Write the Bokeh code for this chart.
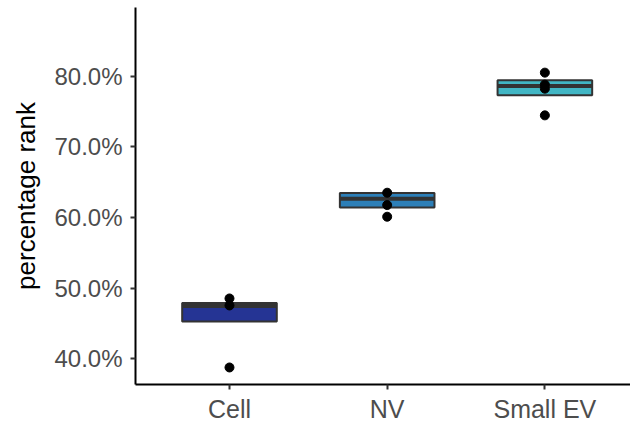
from bokeh.plotting import figure
from bokeh.models import FixedTicker, NumeralTickFormatter, ColumnDataSource
from bokeh.embed import file_html
from bokeh.resources import INLINE

categories = ["Cell", "NV", "Small EV"]
fill_colors = ["#253494", "#2c7fb8", "#41b6c4"]
q1 = [0.4528, 0.6141, 0.7729]
median = [0.4748, 0.6266, 0.7861]
q3 = [0.4791, 0.6346, 0.7942]

point_groups = ["Cell", "Cell", "Cell", "NV", "NV", "NV", "Small EV", "Small EV", "Small EV", "Small EV"]
point_values = [0.4854, 0.4755, 0.3877, 0.6351, 0.6176, 0.6011, 0.8051, 0.7881, 0.7824, 0.7446]

y_ticks = [0.4, 0.5, 0.6, 0.7, 0.8]
y_title = "percentage rank"

xpos = {c: i + 1 for i, c in enumerate(categories)}
box_x = [xpos[c] for c in categories]
box_w = 0.6

p = figure(width=630, height=425, output_backend="svg", toolbar_location=None,
           x_range=(0.404, 3.543), y_range=(0.3636, 0.8973),
           min_border_left=135, min_border_bottom=41, min_border_top=7, min_border_right=0)

src = ColumnDataSource(dict(x=box_x, q1=q1, q3=q3, med=median, color=fill_colors,
                            x0=[x - box_w / 2 for x in box_x], x1=[x + box_w / 2 for x in box_x]))
p.vbar(x="x", width=box_w, bottom="q1", top="q3", fill_color="color",
       line_color="#333333", line_width=2, source=src)
p.segment(x0="x0", x1="x1", y0="med", y1="med", line_color="#333333", line_width=4, source=src)

p.scatter([xpos[g] for g in point_groups], point_values, size=9, color="black")

p.xgrid.visible = False
p.ygrid.visible = False
p.outline_line_color = None
p.background_fill_color = "white"
p.border_fill_color = "white"

p.xaxis.ticker = FixedTicker(ticks=box_x)
p.xaxis.major_label_overrides = {x: c for x, c in zip(box_x, categories)}
p.yaxis.ticker = FixedTicker(ticks=y_ticks)
p.yaxis.formatter = NumeralTickFormatter(format="0.0%")
p.yaxis.axis_label = y_title

for ax in (p.xaxis[0], p.yaxis[0]):
    ax.axis_line_color = "black"
    ax.axis_line_width = 2
    ax.major_tick_line_color = "#333333"
    ax.major_tick_line_width = 2
    ax.major_tick_out = 5
    ax.major_tick_in = 0
    ax.minor_tick_line_color = None
    ax.major_label_text_color = "#4d4d4d"
    ax.major_label_text_font = "Liberation Sans"
    ax.axis_label_text_font = "Liberation Sans"
    ax.axis_label_text_font_style = "normal"
    ax.axis_label_text_color = "black"
    ax.axis_label_text_font_size = "26px"

p.xaxis.major_label_text_font_size = "25px"
p.yaxis.major_label_text_font_size = "24px"
p.yaxis.major_label_standoff = 8
p.xaxis.major_label_standoff = 5
p.yaxis.axis_label_standoff = 10

open("out.html", "w").write(file_html(p, INLINE))
